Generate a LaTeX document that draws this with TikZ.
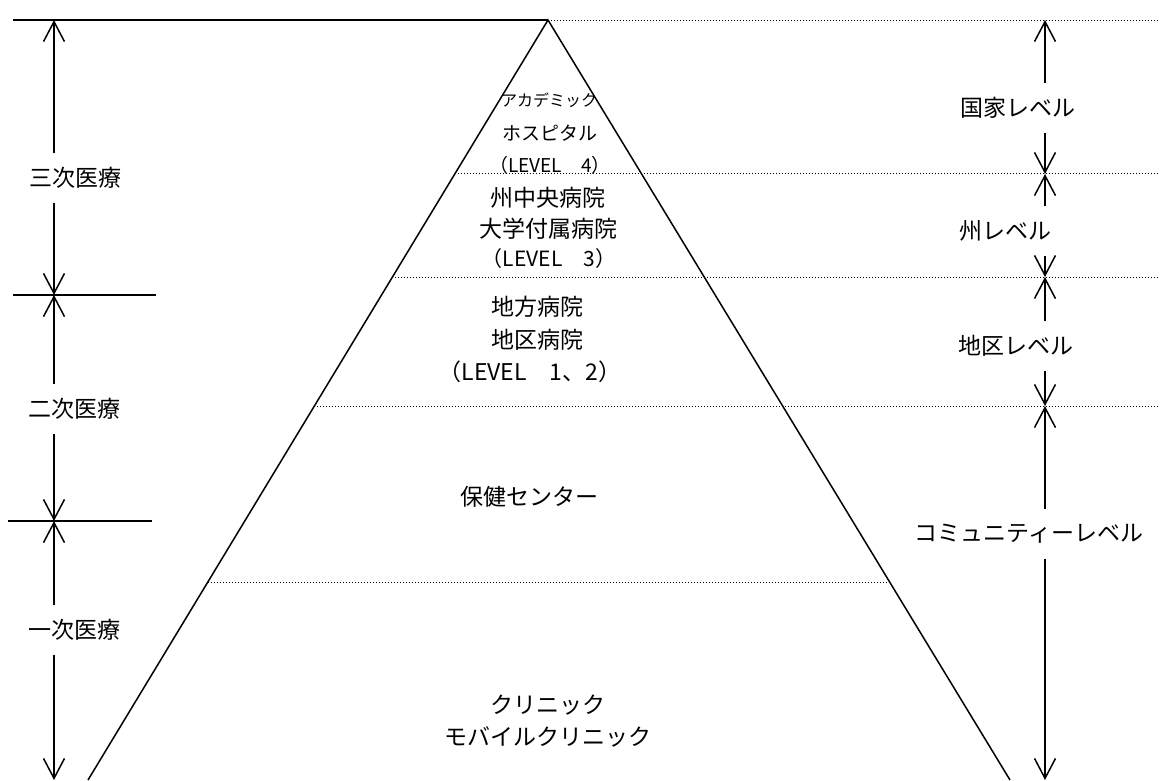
\documentclass[tikz,border=0pt]{standalone}
\usepackage{fontspec}
\setmainfont{Noto Sans CJK JP}
\usetikzlibrary{arrows.meta,calc}
\begin{document}
\begin{tikzpicture}[x=1pt,y=-1pt,
  mainline/.style={line width=1.5pt},
  dotline/.style={line width=1pt, dash pattern=on 1pt off 2pt},
  arr/.style={line width=1.5pt, -{Straight Barb[length=20pt,width=21pt]}},
  lbl/.style={inner sep=0pt, minimum height=49pt, font=\fontsize{23}{27}\selectfont},
  ptxt/.style={inner sep=0pt, font=\fontsize{23}{27}\selectfont},
  psmall/.style={inner sep=0pt, font=\fontsize{19}{23}\selectfont}]
\useasboundingbox (0,0) rectangle (1160,780);
\coordinate (E) at (1160,0);
% pyramid
\coordinate (apex) at (548,20);
\coordinate (bl) at (88,780);
\coordinate (br) at (1010,780);
\draw[mainline] (bl) -- (apex) -- (br);
\draw[mainline] (13,20) -- (apex);
\draw[dotline] (apex) -- (apex -| E);
% level boundaries
\coordinate (d1) at ($(apex)!0.2026!(bl)$);
\coordinate (d2) at ($(apex)!0.3382!(bl)$);
\coordinate (d3) at ($(apex)!0.5079!(bl)$);
\coordinate (d4) at ($(apex)!0.7395!(bl)$);
\coordinate (d4r) at ($(apex)!0.7395!(br)$);
\draw[dotline] (d1) -- (d1 -| E);
\draw[dotline] (d2) -- (d2 -| E);
\draw[dotline] (d3) -- (d3 -| E);
\draw[dotline] (d4) -- (d4r);
% pyramid texts
\node[psmall, font=\fontsize{16}{20}\selectfont] (t1) at (549,100) {アカデミック};
\node[psmall] (t2) at (550,133) {ホスピタル};
\node[psmall] (t3) at (550,165) {（LEVEL　4）};
\node[ptxt] (t4) at (548,198) {州中央病院};
\node[ptxt] (t5) at (548,229) {大学付属病院};
\node[ptxt, font=\fontsize{21}{25}\selectfont] (t6) at (549,259) {（LEVEL　3）};
\node[ptxt] (t7) at (537,307) {地方病院};
\node[ptxt] (t8) at (537,340) {地区病院};
\node[ptxt] (t9) at (530,372) {（LEVEL　1、2）};
\node[ptxt] (t10) at (529,497) {保健センター};
\node[ptxt] (t11) at (548,705) {クリニック};
\node[ptxt] (t12) at (548,737) {モバイルクリニック};
% left scale
\coordinate (L0) at (54,20);
\coordinate (L1) at (54,295);
\coordinate (L2) at (54,521);
\coordinate (L3) at (54,780);
\draw[mainline] (13,295) -- (156,295);
\draw[mainline] (8,521) -- (152,521);
\node[lbl] (s3) at (76,178) {三次医療};
\node[lbl] (s2) at (74,409) {二次医療};
\node[lbl] (s1) at (74,630) {一次医療};
\draw[arr] (s3.north -| L0) -- (L0);
\draw[arr] (s3.south -| L0) -- (L1);
\draw[arr] (s2.north -| L0) -- (L1);
\draw[arr] (s2.south -| L0) -- (L2);
\draw[arr] (s1.north -| L0) -- (L2);
\draw[arr] (s1.south -| L0) -- (L3);
% right scale
\coordinate (R0) at (1045,20);
\coordinate (R1) at (1045,174);
\coordinate (R2) at (1045,277);
\coordinate (R3) at (1045,406);
\coordinate (R4) at (1045,780);
\node[lbl] (r1) at (1018,108) {国家レベル};
\node[lbl] (r2) at (1005,231) {州レベル};
\node[lbl] (r3) at (1016,346) {地区レベル};
\node[lbl] (r4) at (1029,534) {コミュニティーレベル};
\draw[arr] (r1.north -| R0) -- (R0);
\draw[arr] (r1.south -| R0) -- (R1);
\draw[arr] (r2.north -| R0) -- (R1);
\draw[arr] (r2.south -| R0) -- (R2);
\draw[arr] (r3.north -| R0) -- (R2);
\draw[arr] (r3.south -| R0) -- (R3);
\draw[arr] (r4.north -| R0) -- (R3);
\draw[arr] (r4.south -| R0) -- (R4);
\end{tikzpicture}
\end{document}
